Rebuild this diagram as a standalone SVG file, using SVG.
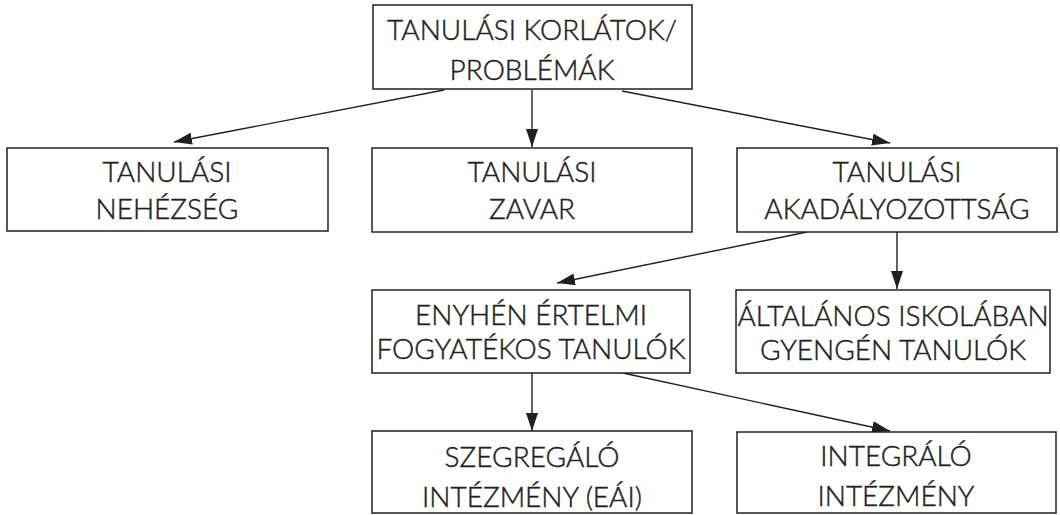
<svg xmlns="http://www.w3.org/2000/svg" width="1060" height="515" viewBox="0 0 1060 515">
  <style>
    .box { fill: #ffffff; stroke: #231f20; stroke-width: 1.5; }
    .lbl { font-family: Lato, "Liberation Sans", sans-serif; font-size: 28px; font-weight: 300; fill: #231f20; stroke: #231f20; stroke-width: 0.45; text-anchor: middle; }
    .edge { stroke: #231f20; stroke-width: 1.4; fill: none; marker-end: url(#head); }
  </style>
  <defs>
    <marker id="head" viewBox="0 0 18 12" refX="18" refY="6" markerWidth="18" markerHeight="12" markerUnits="userSpaceOnUse" orient="auto">
      <path d="M0,0 L18,6 L0,12 Z" fill="#231f20"/>
    </marker>
  </defs>
  <rect width="1060" height="515" fill="#ffffff"/>

  <g id="connectors">
    <line class="edge" x1="444" y1="90" x2="174" y2="142"/>
    <line class="edge" x1="532" y1="90" x2="532" y2="147"/>
    <line class="edge" x1="622" y1="91" x2="890" y2="143"/>
    <line class="edge" x1="807" y1="232" x2="557" y2="283"/>
    <line class="edge" x1="897" y1="232" x2="897" y2="289"/>
    <line class="edge" x1="532" y1="373" x2="532" y2="431"/>
    <line class="edge" x1="623" y1="373" x2="890" y2="431"/>
  </g>

  <g id="n-root">
    <rect class="box" x="373" y="5" width="319" height="84"/>
    <text class="lbl" x="532" y="40">TANULÁSI KORLÁTOK/</text>
    <text class="lbl" x="532" y="80">PROBLÉMÁK</text>
  </g>

  <g id="n-nehezseg">
    <rect class="box" x="7" y="148" width="321" height="83"/>
    <text class="lbl" x="167" y="182">TANULÁSI</text>
    <text class="lbl" x="167" y="219">NEHÉZSÉG</text>
  </g>

  <g id="n-zavar">
    <rect class="box" x="372" y="148" width="320" height="84"/>
    <text class="lbl" x="532" y="182">TANULÁSI</text>
    <text class="lbl" x="532" y="219">ZAVAR</text>
  </g>

  <g id="n-akadalyozottsag">
    <rect class="box" x="737" y="148" width="320" height="84"/>
    <text class="lbl" x="897" y="182">TANULÁSI</text>
    <text class="lbl" x="897" y="219">AKADÁLYOZOTTSÁG</text>
  </g>

  <g id="n-enyhen">
    <rect class="box" x="372" y="290" width="318" height="83"/>
    <text class="lbl" x="531" y="325">ENYHÉN ÉRTELMI</text>
    <text class="lbl" x="531" y="359">FOGYATÉKOS TANULÓK</text>
  </g>

  <g id="n-altalanos">
    <rect class="box" x="736" y="290" width="314" height="83"/>
    <text class="lbl" x="893" y="326">ÁLTALÁNOS ISKOLÁBAN</text>
    <text class="lbl" x="893" y="360">GYENGÉN TANULÓK</text>
  </g>

  <g id="n-szegregalo">
    <rect class="box" x="372" y="431" width="320" height="82"/>
    <text class="lbl" x="532" y="467">SZEGREGÁLÓ</text>
    <text class="lbl" x="532" y="507">INTÉZMÉNY (EÁI)</text>
  </g>

  <g id="n-integralo">
    <rect class="box" x="737" y="432" width="319" height="81"/>
    <text class="lbl" x="896" y="466">INTEGRÁLÓ</text>
    <text class="lbl" x="896" y="506">INTÉZMÉNY</text>
  </g>
</svg>
